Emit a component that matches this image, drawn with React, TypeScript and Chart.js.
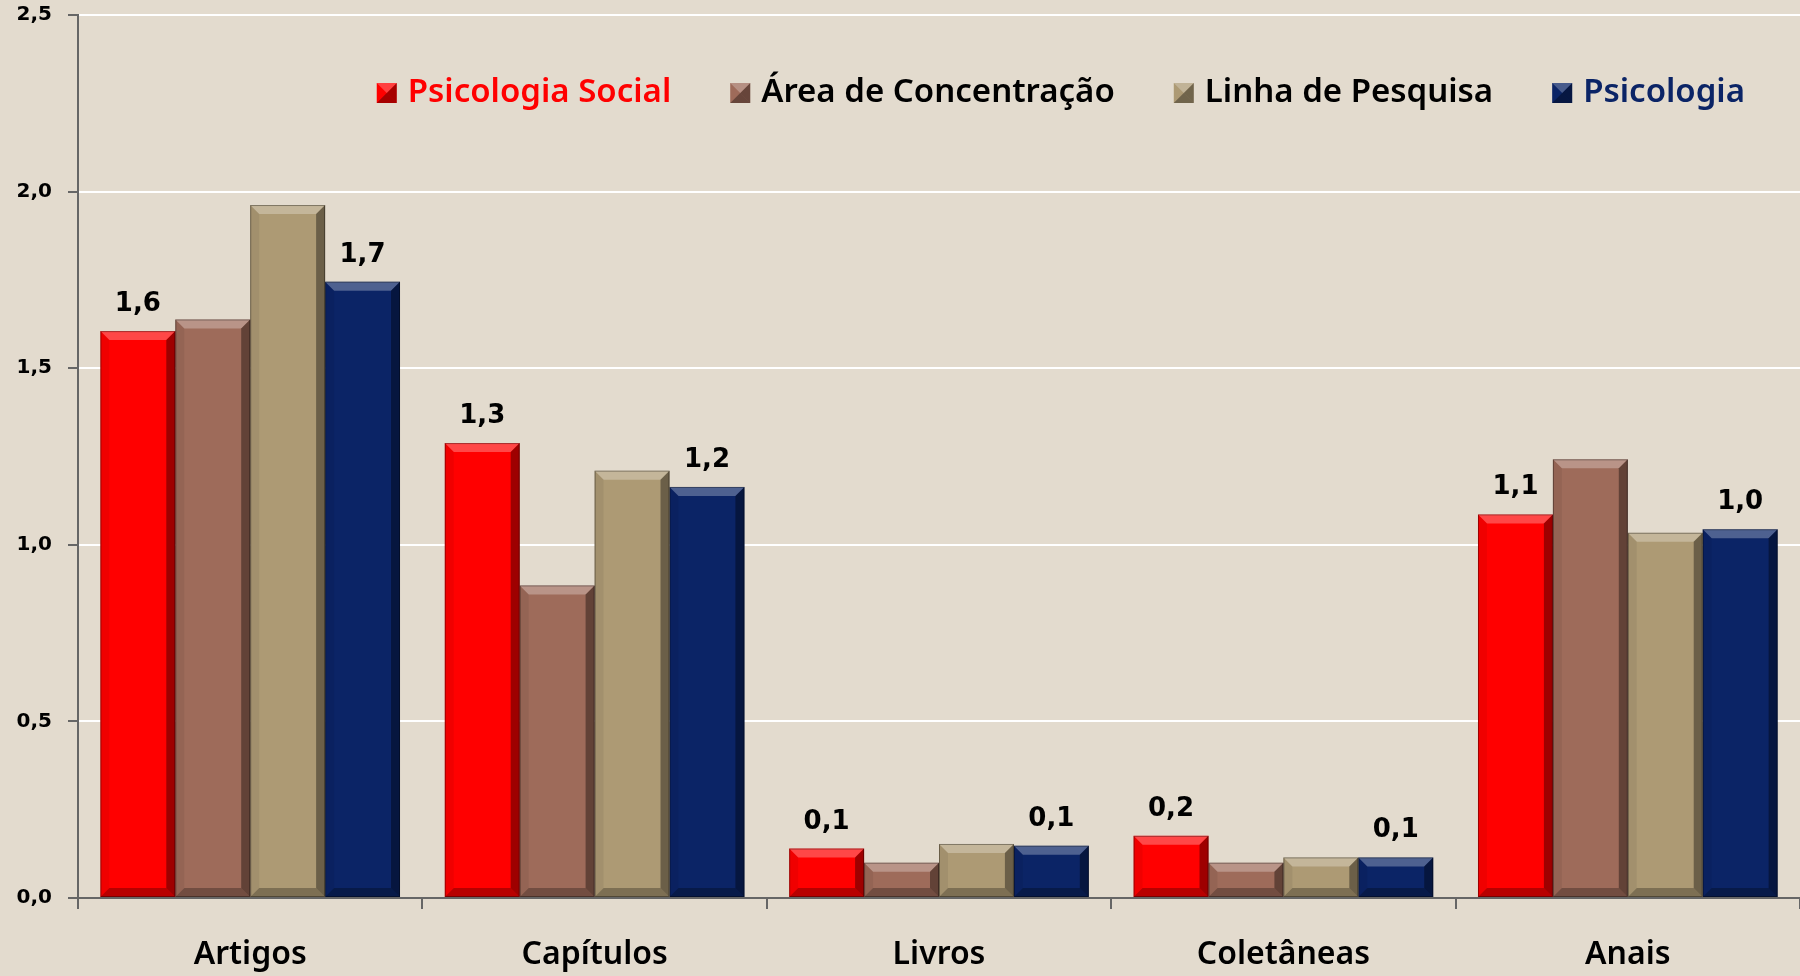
import React, { useEffect, useRef } from "react";
import { Chart, registerables } from "chart.js";

Chart.register(...registerables);

const categories = ["Artigos", "Capítulos", "Livros", "Coletâneas", "Anais"];
const seriesNames = ["Psicologia Social", "Área de Concentração", "Linha de Pesquisa", "Psicologia"];
const psicologiaSocial = [1.605, 1.288, 0.14, 0.176, 1.086];
const areaConcentracao = [1.638, 0.885, 0.1, 0.1, 1.242];
const linhaPesquisa = [1.962, 1.21, 0.153, 0.115, 1.034];
const psicologia = [1.745, 1.164, 0.148, 0.115, 1.044];
const yTicks = [0, 0.5, 1.0, 1.5, 2.0, 2.5];
const labeledSeries = [0, 3];

const barColors = ["#ff0000", "#9e6b5a", "#ad9a74", "#0b2466"];
const legendTextColors = ["#ff0000", "#000000", "#000000", "#0b2466"];

const fmt = (v: number) => v.toFixed(1).replace(".", ",");

const bevelPlugin = {
  id: "bevel",
  afterDatasetsDraw(chart: any) {
    const ctx = chart.ctx;
    chart.data.datasets.forEach((_: any, i: number) => {
      const meta = chart.getDatasetMeta(i);
      meta.data.forEach((bar: any) => {
        const { x, y, base, width } = bar.getProps(["x", "y", "base", "width"], true);
        const l = x - width / 2, r = x + width / 2, t = y, b = base;
        const d = Math.min(9, (b - t) / 3);
        ctx.save();
        const poly = (pts: number[][], c: string) => {
          ctx.beginPath();
          ctx.moveTo(pts[0][0], pts[0][1]);
          for (let k = 1; k < pts.length; k++) ctx.lineTo(pts[k][0], pts[k][1]);
          ctx.closePath();
          ctx.fillStyle = c;
          ctx.fill();
        };
        poly([[l, t], [r, t], [r - d, t + d], [l + d, t + d]], "rgba(255,255,255,0.28)");
        poly([[r, t], [r, b], [r - d, b - d], [r - d, t + d]], "rgba(0,0,0,0.38)");
        poly([[l, b], [r, b], [r - d, b - d], [l + d, b - d]], "rgba(0,0,0,0.28)");
        poly([[l, t], [l + d, t + d], [l + d, b - d], [l, b]], "rgba(0,0,0,0.06)");
        ctx.strokeStyle = "rgba(0,0,0,0.35)";
        ctx.lineWidth = 1;
        ctx.strokeRect(l + 0.5, t + 0.5, width - 1, b - t - 1);
        ctx.restore();
      });
    });
  },
};

const valueLabelPlugin = {
  id: "valueLabels",
  afterDatasetsDraw(chart: any) {
    const ctx = chart.ctx;
    ctx.save();
    ctx.font = "bold 26px 'DejaVu Sans'";
    ctx.fillStyle = "#000";
    ctx.textAlign = "center";
    ctx.textBaseline = "alphabetic";
    labeledSeries.forEach((i) => {
      const meta = chart.getDatasetMeta(i);
      const data = chart.data.datasets[i].data;
      meta.data.forEach((bar: any, j: number) => {
        ctx.fillText(fmt(data[j]), bar.x, bar.y - 20);
      });
    });
    ctx.restore();
  },
};

const customLegendPlugin = {
  id: "customLegend",
  afterDraw(chart: any) {
    const ctx = chart.ctx;
    const area = chart.chartArea;
    ctx.save();
    ctx.font = "600 33px 'Noto Sans'";
    const box = 20, gapText = 11, gapItem = 59;
    const widths = seriesNames.map((n) => ctx.measureText(n).width);
    const total = widths.reduce((a, w) => a + box + gapText + w, 0) + gapItem * (seriesNames.length - 1);
    let x = area.right - 55 - total;
    const cy = 93;
    seriesNames.forEach((name, i) => {
      const bx = x, by = cy - box / 2;
      ctx.fillStyle = barColors[i];
      ctx.fillRect(bx, by, box, box);
      ctx.fillStyle = "rgba(0,0,0,0.35)";
      ctx.beginPath();
      ctx.moveTo(bx + box, by); ctx.lineTo(bx + box, by + box); ctx.lineTo(bx + box / 2, by + box / 2); ctx.closePath(); ctx.fill();
      ctx.beginPath();
      ctx.moveTo(bx, by + box); ctx.lineTo(bx + box, by + box); ctx.lineTo(bx + box / 2, by + box / 2); ctx.closePath(); ctx.fill();
      ctx.fillStyle = "rgba(255,255,255,0.25)";
      ctx.beginPath();
      ctx.moveTo(bx, by); ctx.lineTo(bx + box, by); ctx.lineTo(bx + box / 2, by + box / 2); ctx.closePath(); ctx.fill();
      ctx.fillStyle = legendTextColors[i];
      ctx.textAlign = "left";
      ctx.textBaseline = "middle";
      ctx.fillText(name, x + box + gapText, cy);
      x += box + gapText + widths[i] + gapItem;
    });
    ctx.restore();
  },
};

const bgPlugin = {
  id: "bg",
  beforeDraw(chart: any) {
    const ctx = chart.ctx;
    ctx.save();
    ctx.fillStyle = "#e3dbce";
    ctx.fillRect(0, 0, chart.width, chart.height);
    ctx.restore();
  },
};

export default function App() {
  const ref = useRef<HTMLCanvasElement>(null);
  useEffect(() => {
    document.body.style.margin = "0";
    const series = [psicologiaSocial, areaConcentracao, linhaPesquisa, psicologia];
    const chart = new Chart(ref.current as HTMLCanvasElement, {
      type: "bar",
      data: {
        labels: categories,
        datasets: series.map((d, i) => ({
          label: seriesNames[i],
          data: d,
          backgroundColor: barColors[i],
          borderWidth: 0,
          categoryPercentage: 0.87,
          barPercentage: 1.0,
        })),
      },
      options: {
        animation: false,
        responsive: false,
        layout: { padding: { top: 15, left: 0, right: 0, bottom: 0 } },
        plugins: { legend: { display: false }, tooltip: { enabled: false } },
        scales: {
          x: {
            grid: { display: true, drawOnChartArea: false, drawTicks: true, tickLength: 11, offset: true, color: "#666", lineWidth: 2 },
            border: { display: true, color: "#666", width: 2 },
            ticks: { color: "#000", font: { family: "'Noto Sans'", size: 32, weight: "600" }, padding: 27 },
            afterFit: (s: any) => { s.height = 78; s.paddingLeft = 0; s.paddingRight = 0; },
          },
          y: {
            min: 0,
            max: 2.5,
            afterBuildTicks: (s: any) => { s.ticks = yTicks.map((v) => ({ value: v })); },
            grid: { color: "#ffffff", lineWidth: 2, drawTicks: true, tickLength: 10, tickColor: "#666", tickWidth: 2 },
            border: { display: true, color: "#666", width: 2 },
            ticks: { color: "#000", font: { family: "'DejaVu Sans'", size: 20, weight: "bold" }, padding: 16, callback: (v: any) => fmt(Number(v)) },
            afterFit: (s: any) => { s.width = 78; s.paddingTop = 0; s.paddingBottom = 0; },
          },
        },
      },
      plugins: [bgPlugin, bevelPlugin, valueLabelPlugin, customLegendPlugin],
    } as any);
    return () => chart.destroy();
  }, []);
  return (
    <div style={{ position: "absolute", left: 0, top: 0, width: 1800, height: 976 }}>
      <canvas ref={ref} width={1800} height={976} />
    </div>
  );
}
